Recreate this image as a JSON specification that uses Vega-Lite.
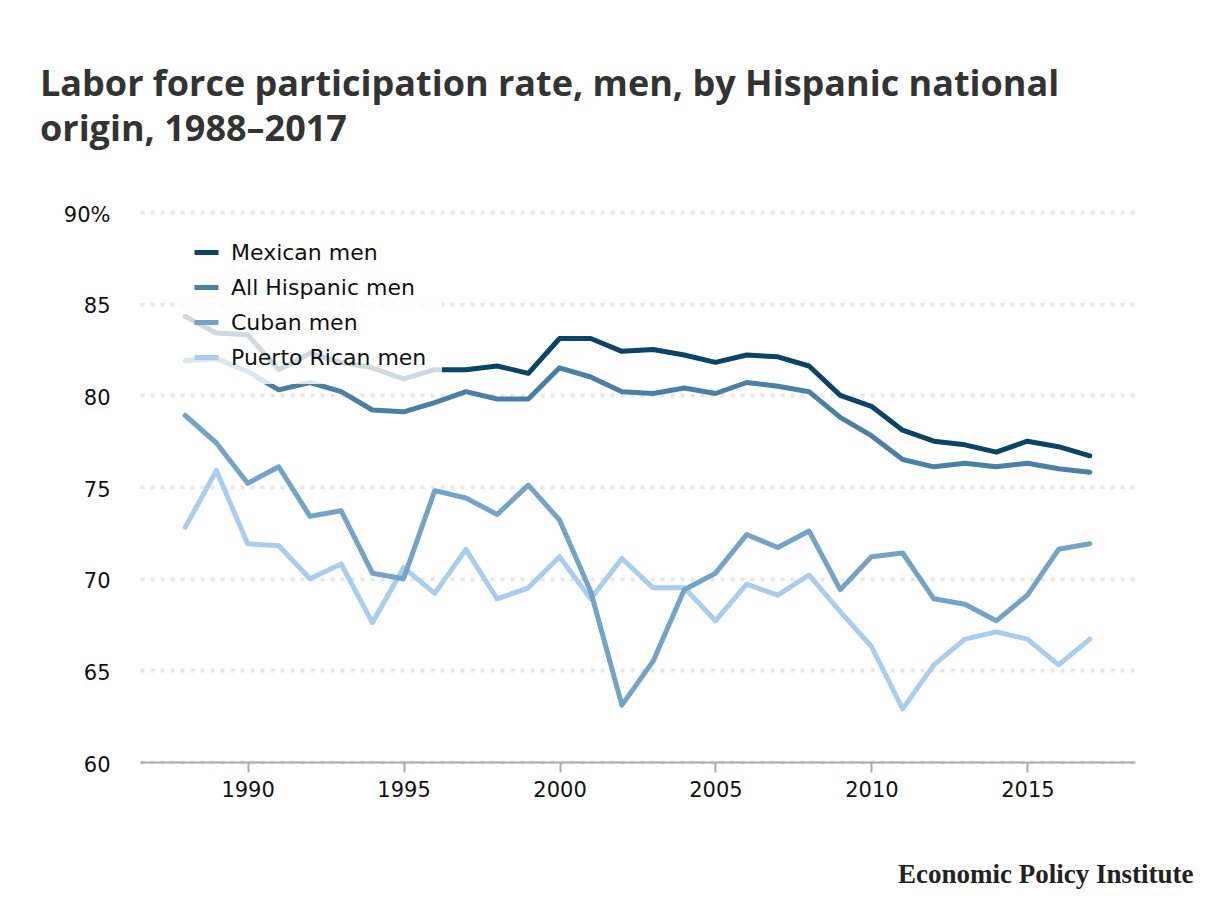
{
  "$schema": "https://vega.github.io/schema/vega-lite/v6.json",
  "width": 995,
  "height": 550,
  "autosize": "none",
  "padding": {"left": 140, "top": 212, "right": 81, "bottom": 153},
  "background": "white",
  "title": {
    "text": ["Labor force participation rate, men, by Hispanic national", "origin, 1988–2017"],
    "anchor": "start",
    "frame": "group",
    "dx": -100,
    "offset": 55,
    "font": "Open Sans",
    "fontSize": 36,
    "fontWeight": "bold",
    "color": "#333333",
    "lineHeight": 45
  },
  "data": {
    "values": [
      {"year": 1988, "series": "Puerto Rican men", "value": 72.8},
      {"year": 1989, "series": "Puerto Rican men", "value": 75.9},
      {"year": 1990, "series": "Puerto Rican men", "value": 71.9},
      {"year": 1991, "series": "Puerto Rican men", "value": 71.8},
      {"year": 1992, "series": "Puerto Rican men", "value": 70.0},
      {"year": 1993, "series": "Puerto Rican men", "value": 70.8},
      {"year": 1994, "series": "Puerto Rican men", "value": 67.6},
      {"year": 1995, "series": "Puerto Rican men", "value": 70.6},
      {"year": 1996, "series": "Puerto Rican men", "value": 69.2},
      {"year": 1997, "series": "Puerto Rican men", "value": 71.6},
      {"year": 1998, "series": "Puerto Rican men", "value": 68.9},
      {"year": 1999, "series": "Puerto Rican men", "value": 69.5},
      {"year": 2000, "series": "Puerto Rican men", "value": 71.2},
      {"year": 2001, "series": "Puerto Rican men", "value": 68.9},
      {"year": 2002, "series": "Puerto Rican men", "value": 71.1},
      {"year": 2003, "series": "Puerto Rican men", "value": 69.5},
      {"year": 2004, "series": "Puerto Rican men", "value": 69.5},
      {"year": 2005, "series": "Puerto Rican men", "value": 67.7},
      {"year": 2006, "series": "Puerto Rican men", "value": 69.7},
      {"year": 2007, "series": "Puerto Rican men", "value": 69.1},
      {"year": 2008, "series": "Puerto Rican men", "value": 70.2},
      {"year": 2009, "series": "Puerto Rican men", "value": 68.2},
      {"year": 2010, "series": "Puerto Rican men", "value": 66.3},
      {"year": 2011, "series": "Puerto Rican men", "value": 62.9},
      {"year": 2012, "series": "Puerto Rican men", "value": 65.3},
      {"year": 2013, "series": "Puerto Rican men", "value": 66.7},
      {"year": 2014, "series": "Puerto Rican men", "value": 67.1},
      {"year": 2015, "series": "Puerto Rican men", "value": 66.7},
      {"year": 2016, "series": "Puerto Rican men", "value": 65.3},
      {"year": 2017, "series": "Puerto Rican men", "value": 66.7},
      {"year": 1988, "series": "Cuban men", "value": 78.9},
      {"year": 1989, "series": "Cuban men", "value": 77.4},
      {"year": 1990, "series": "Cuban men", "value": 75.2},
      {"year": 1991, "series": "Cuban men", "value": 76.1},
      {"year": 1992, "series": "Cuban men", "value": 73.4},
      {"year": 1993, "series": "Cuban men", "value": 73.7},
      {"year": 1994, "series": "Cuban men", "value": 70.3},
      {"year": 1995, "series": "Cuban men", "value": 70.0},
      {"year": 1996, "series": "Cuban men", "value": 74.8},
      {"year": 1997, "series": "Cuban men", "value": 74.4},
      {"year": 1998, "series": "Cuban men", "value": 73.5},
      {"year": 1999, "series": "Cuban men", "value": 75.1},
      {"year": 2000, "series": "Cuban men", "value": 73.2},
      {"year": 2001, "series": "Cuban men", "value": 69.3},
      {"year": 2002, "series": "Cuban men", "value": 63.1},
      {"year": 2003, "series": "Cuban men", "value": 65.5},
      {"year": 2004, "series": "Cuban men", "value": 69.4},
      {"year": 2005, "series": "Cuban men", "value": 70.3},
      {"year": 2006, "series": "Cuban men", "value": 72.4},
      {"year": 2007, "series": "Cuban men", "value": 71.7},
      {"year": 2008, "series": "Cuban men", "value": 72.6},
      {"year": 2009, "series": "Cuban men", "value": 69.4},
      {"year": 2010, "series": "Cuban men", "value": 71.2},
      {"year": 2011, "series": "Cuban men", "value": 71.4},
      {"year": 2012, "series": "Cuban men", "value": 68.9},
      {"year": 2013, "series": "Cuban men", "value": 68.6},
      {"year": 2014, "series": "Cuban men", "value": 67.7},
      {"year": 2015, "series": "Cuban men", "value": 69.1},
      {"year": 2016, "series": "Cuban men", "value": 71.6},
      {"year": 2017, "series": "Cuban men", "value": 71.9},
      {"year": 1988, "series": "All Hispanic men", "value": 81.9},
      {"year": 1989, "series": "All Hispanic men", "value": 82.0},
      {"year": 1990, "series": "All Hispanic men", "value": 81.3},
      {"year": 1991, "series": "All Hispanic men", "value": 80.3},
      {"year": 1992, "series": "All Hispanic men", "value": 80.7},
      {"year": 1993, "series": "All Hispanic men", "value": 80.2},
      {"year": 1994, "series": "All Hispanic men", "value": 79.2},
      {"year": 1995, "series": "All Hispanic men", "value": 79.1},
      {"year": 1996, "series": "All Hispanic men", "value": 79.6},
      {"year": 1997, "series": "All Hispanic men", "value": 80.2},
      {"year": 1998, "series": "All Hispanic men", "value": 79.8},
      {"year": 1999, "series": "All Hispanic men", "value": 79.8},
      {"year": 2000, "series": "All Hispanic men", "value": 81.5},
      {"year": 2001, "series": "All Hispanic men", "value": 81.0},
      {"year": 2002, "series": "All Hispanic men", "value": 80.2},
      {"year": 2003, "series": "All Hispanic men", "value": 80.1},
      {"year": 2004, "series": "All Hispanic men", "value": 80.4},
      {"year": 2005, "series": "All Hispanic men", "value": 80.1},
      {"year": 2006, "series": "All Hispanic men", "value": 80.7},
      {"year": 2007, "series": "All Hispanic men", "value": 80.5},
      {"year": 2008, "series": "All Hispanic men", "value": 80.2},
      {"year": 2009, "series": "All Hispanic men", "value": 78.8},
      {"year": 2010, "series": "All Hispanic men", "value": 77.8},
      {"year": 2011, "series": "All Hispanic men", "value": 76.5},
      {"year": 2012, "series": "All Hispanic men", "value": 76.1},
      {"year": 2013, "series": "All Hispanic men", "value": 76.3},
      {"year": 2014, "series": "All Hispanic men", "value": 76.1},
      {"year": 2015, "series": "All Hispanic men", "value": 76.3},
      {"year": 2016, "series": "All Hispanic men", "value": 76.0},
      {"year": 2017, "series": "All Hispanic men", "value": 75.8},
      {"year": 1988, "series": "Mexican men", "value": 84.3},
      {"year": 1989, "series": "Mexican men", "value": 83.4},
      {"year": 1990, "series": "Mexican men", "value": 83.3},
      {"year": 1991, "series": "Mexican men", "value": 81.4},
      {"year": 1992, "series": "Mexican men", "value": 82.3},
      {"year": 1993, "series": "Mexican men", "value": 81.8},
      {"year": 1994, "series": "Mexican men", "value": 81.5},
      {"year": 1995, "series": "Mexican men", "value": 80.9},
      {"year": 1996, "series": "Mexican men", "value": 81.4},
      {"year": 1997, "series": "Mexican men", "value": 81.4},
      {"year": 1998, "series": "Mexican men", "value": 81.6},
      {"year": 1999, "series": "Mexican men", "value": 81.2},
      {"year": 2000, "series": "Mexican men", "value": 83.1},
      {"year": 2001, "series": "Mexican men", "value": 83.1},
      {"year": 2002, "series": "Mexican men", "value": 82.4},
      {"year": 2003, "series": "Mexican men", "value": 82.5},
      {"year": 2004, "series": "Mexican men", "value": 82.2},
      {"year": 2005, "series": "Mexican men", "value": 81.8},
      {"year": 2006, "series": "Mexican men", "value": 82.2},
      {"year": 2007, "series": "Mexican men", "value": 82.1},
      {"year": 2008, "series": "Mexican men", "value": 81.6},
      {"year": 2009, "series": "Mexican men", "value": 80.0},
      {"year": 2010, "series": "Mexican men", "value": 79.4},
      {"year": 2011, "series": "Mexican men", "value": 78.1},
      {"year": 2012, "series": "Mexican men", "value": 77.5},
      {"year": 2013, "series": "Mexican men", "value": 77.3},
      {"year": 2014, "series": "Mexican men", "value": 76.9},
      {"year": 2015, "series": "Mexican men", "value": 77.5},
      {"year": 2016, "series": "Mexican men", "value": 77.2},
      {"year": 2017, "series": "Mexican men", "value": 76.7}
    ]
  },
  "mark": {"type": "line", "strokeWidth": 5, "strokeCap": "round", "strokeJoin": "round"},
  "encoding": {
    "x": {
      "field": "year",
      "type": "quantitative",
      "scale": {"domain": [1986.55, 2018.45], "nice": false, "zero": false},
      "axis": {
        "values": [1990, 1995, 2000, 2005, 2010, 2015],
        "format": "d",
        "grid": false,
        "domainColor": "#aaaaaa",
        "domainWidth": 2,
        "tickColor": "#aaaaaa",
        "tickWidth": 2,
        "tickSize": 10,
        "labelFont": "DejaVu Sans",
        "labelFontSize": 21,
        "labelColor": "#111111",
        "labelPadding": 7,
        "title": "Economic Policy Institute",
        "titleFont": "Liberation Serif",
        "titleFontSize": 27,
        "titleFontWeight": "bold",
        "titleColor": "#222222",
        "titleAlign": "right",
        "titleAnchor": "end",
        "titleBaseline": "alphabetic",
        "titleX": 1053,
        "titleY": 120
      }
    },
    "y": {
      "field": "value",
      "type": "quantitative",
      "scale": {"domain": [60, 90], "nice": false, "zero": false},
      "axis": {
        "values": [60, 65, 70, 75, 80, 85, 90],
        "labelExpr": "datum.value == 90 ? '90%' : datum.label",
        "domain": false,
        "ticks": false,
        "gridColor": "#e8e8e8",
        "gridWidth": 4,
        "gridDash": [4, 6],
        "labelFont": "DejaVu Sans",
        "labelFontSize": 21,
        "labelColor": "#111111",
        "labelPadding": 30,
        "labelOffset": 3,
        "title": null
      }
    },
    "color": {
      "field": "series",
      "type": "nominal",
      "scale": {
        "domain": ["Mexican men", "All Hispanic men", "Cuban men", "Puerto Rican men"],
        "range": ["#0a4466", "#4a80a3", "#73a3c6", "#a8cdee"]
      },
      "legend": {
        "title": null,
        "orient": "none",
        "legendX": 37,
        "legendY": 11,
        "direction": "vertical",
        "padding": 15,
        "fillColor": "rgba(255,255,255,0.8)",
        "symbolType": "stroke",
        "symbolSize": 576,
        "symbolStrokeWidth": 5,
        "labelFont": "DejaVu Sans",
        "labelFontSize": 22,
        "labelColor": "#111111",
        "labelOffset": 10,
        "labelLimit": 400,
        "rowPadding": 9
      }
    }
  },
  "config": {
    "view": {"stroke": null}
  }
}
